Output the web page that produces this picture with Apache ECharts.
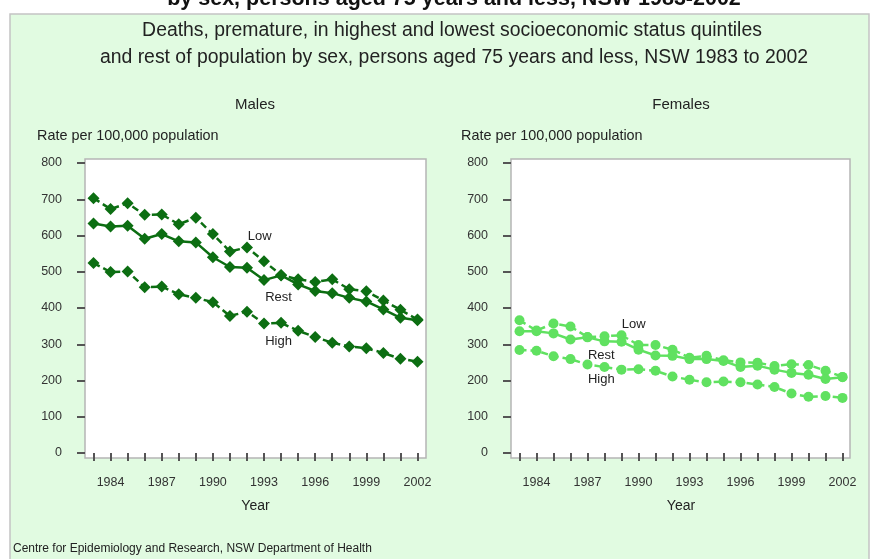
<!DOCTYPE html>
<html><head><meta charset="utf-8">
<script src="https://cdn.jsdelivr.net/npm/echarts@6/dist/echarts.min.js"></script>
<style>html,body{margin:0;padding:0;background:#fff}#c{width:880px;height:559px}</style>
</head><body><div id="c"></div>
<script>
// ---- data ----
const years = [1983,1984,1985,1986,1987,1988,1989,1990,1991,1992,1993,1994,1995,1996,1997,1998,1999,2000,2001,2002];
const tickLabelYears = [1984,1987,1990,1993,1996,1999,2002];
const yTickValues = [0,100,200,300,400,500,600,700,800];

const maleLow  = [703,673,689,657,658,631,649,604,556,567,529,491,479,472,479,452,446,421,395,368];
const maleRest = [633,625,627,591,604,584,581,540,513,511,477,490,465,447,441,428,418,396,373,366];
const maleHigh = [524,499,501,457,459,438,428,416,378,390,357,359,337,320,304,294,289,276,260,252];

const femaleLow  = [366,338,357,349,320,322,325,298,298,285,263,268,256,250,249,240,245,243,227,210];
const femaleRest = [336,336,330,313,319,308,307,285,269,268,259,259,254,237,241,230,221,216,204,209];
const femaleHigh = [284,282,267,259,244,237,230,231,227,211,202,195,197,195,189,182,164,155,157,152];

// series label anchor positions in data space: [year, rate]
const maleLabels   = {Low:[1992.74,597], Rest:[1993.85,428], High:[1993.85,307]};
const femaleLabels = {Low:[1989.72,356], Rest:[1987.81,270], High:[1987.81,203]};

const mainTitle1 = 'Deaths, premature, in highest and lowest socioeconomic status quintiles';
const mainTitle2 = 'and rest of population by sex, persons aged 75 years and less, NSW 1983 to 2002';
const cutTitle = 'by sex, persons aged 75 years and less, NSW 1983-2002';
const footer = 'Centre for Epidemiology and Research, NSW Department of Health';
const yName = 'Rate per 100,000 population';

// ---- styles ----
const FONT = '"Liberation Sans", Arial, Helvetica, sans-serif';
const MALE = '#0c6e12';
const FEMALE = '#60e160';
const TXT = '#222';

const pairs = arr => arr.map((v,i)=>[years[i], v]);

function xAxisFor(gi){
  return {
    type:'value', gridIndex:gi, min:1982.5, max:2002.5, offset:6,
    axisLine:{show:false}, splitLine:{show:false},
    axisTick:{show:true, length:8, lineStyle:{color:'#555', width:2}, customValues: years},
    axisLabel:{show:true, margin:17, fontSize:12.5, color:'#333', fontFamily:FONT, customValues: tickLabelYears, formatter: v=>String(v)},
    name:'Year', nameLocation:'middle', nameGap:40,
    nameTextStyle:{fontSize:14, color:TXT, fontFamily:FONT}
  };
}
function yAxisFor(gi){
  return {
    type:'value', gridIndex:gi, min:0, max:800,
    axisLine:{show:false}, splitLine:{show:false},
    axisTick:{show:true, length:8, lineStyle:{color:'#555', width:2}, customValues: yTickValues},
    axisLabel:{show:true, margin:23, fontSize:12.5, color:'#333', fontFamily:FONT, customValues: yTickValues}
  };
}
function mk(name, data, gi, color, symbol, size, dashed, lab){
  return {
    type:'line', name, xAxisIndex:gi, yAxisIndex:gi, data:pairs(data),
    symbol, symbolSize:size, showSymbol:true, animation:false,
    itemStyle:{color}, lineStyle:{color, width:2.5, type: dashed ? [7,4] : 'solid'},
    markPoint:{
      silent:true, symbol:'rect', symbolSize:1, itemStyle:{color:'rgba(0,0,0,0)'},
      label:{show:true, position:'inside', formatter:name, color:TXT, fontSize:13, fontFamily:FONT},
      data:[{coord: lab[name], value:name}]
    }
  };
}

const option = {
  backgroundColor:'#fff',
  animation:false,
  textStyle:{fontFamily:FONT},
  grid:[
    {left:85, top:163, width:341, height:290, show:false},
    {left:511, top:163, width:340, height:290, show:false},
    {left:85, top:159, width:341, height:299, show:true, backgroundColor:'#fff', borderColor:'#b5b5b5', borderWidth:1.5, z:-1},
    {left:511, top:159, width:339, height:299, show:true, backgroundColor:'#fff', borderColor:'#b5b5b5', borderWidth:1.5, z:-1}
  ],
  xAxis:[ xAxisFor(0), xAxisFor(1),
    {type:'value', gridIndex:2, show:false}, {type:'value', gridIndex:3, show:false} ],
  yAxis:[ yAxisFor(0), yAxisFor(1),
    {type:'value', gridIndex:2, show:false}, {type:'value', gridIndex:3, show:false} ],
  series:[
    mk('Low',  maleLow,  0, MALE, 'diamond', 12, true,  maleLabels),
    mk('Rest', maleRest, 0, MALE, 'diamond', 12, false, maleLabels),
    mk('High', maleHigh, 0, MALE, 'diamond', 12, true,  maleLabels),
    mk('Low',  femaleLow,  1, FEMALE, 'circle', 10, true,  femaleLabels),
    mk('Rest', femaleRest, 1, FEMALE, 'circle', 10, false, femaleLabels),
    mk('High', femaleHigh, 1, FEMALE, 'circle', 10, true,  femaleLabels)
  ],
  graphic:{elements:[
    {type:'rect', z:-100, shape:{x:10, y:14, width:859, height:560}, style:{fill:'#e1fbe1', stroke:'#c4c4c4', lineWidth:1.5}},
    {type:'text', z:10, x:454, y:-1, style:{text:cutTitle, font:'bold 21.5px '+FONT, fill:'#111', align:'center', verticalAlign:'middle'}},
    {type:'text', z:10, x:452, y:31, style:{text:mainTitle1, font:'19.4px '+FONT, fill:TXT, align:'center', verticalAlign:'middle'}},
    {type:'text', z:10, x:454, y:58, style:{text:mainTitle2, font:'19.4px '+FONT, fill:TXT, align:'center', verticalAlign:'middle'}},
    {type:'text', z:10, x:255, y:105, style:{text:'Males', font:'15px '+FONT, fill:TXT, align:'center', verticalAlign:'middle'}},
    {type:'text', z:10, x:681, y:105, style:{text:'Females', font:'15px '+FONT, fill:TXT, align:'center', verticalAlign:'middle'}},
    {type:'text', z:10, x:37, y:136, style:{text:yName, font:'14.4px '+FONT, fill:TXT, align:'left', verticalAlign:'middle'}},
    {type:'text', z:10, x:461, y:136, style:{text:yName, font:'14.4px '+FONT, fill:TXT, align:'left', verticalAlign:'middle'}},
    {type:'text', z:10, x:13, y:549, style:{text:footer, font:'12px '+FONT, fill:TXT, align:'left', verticalAlign:'middle'}}
  ]}
};
const chart = echarts.init(document.getElementById('c'), null, {renderer:'canvas'});
chart.setOption(option);
</script>
</body></html>
